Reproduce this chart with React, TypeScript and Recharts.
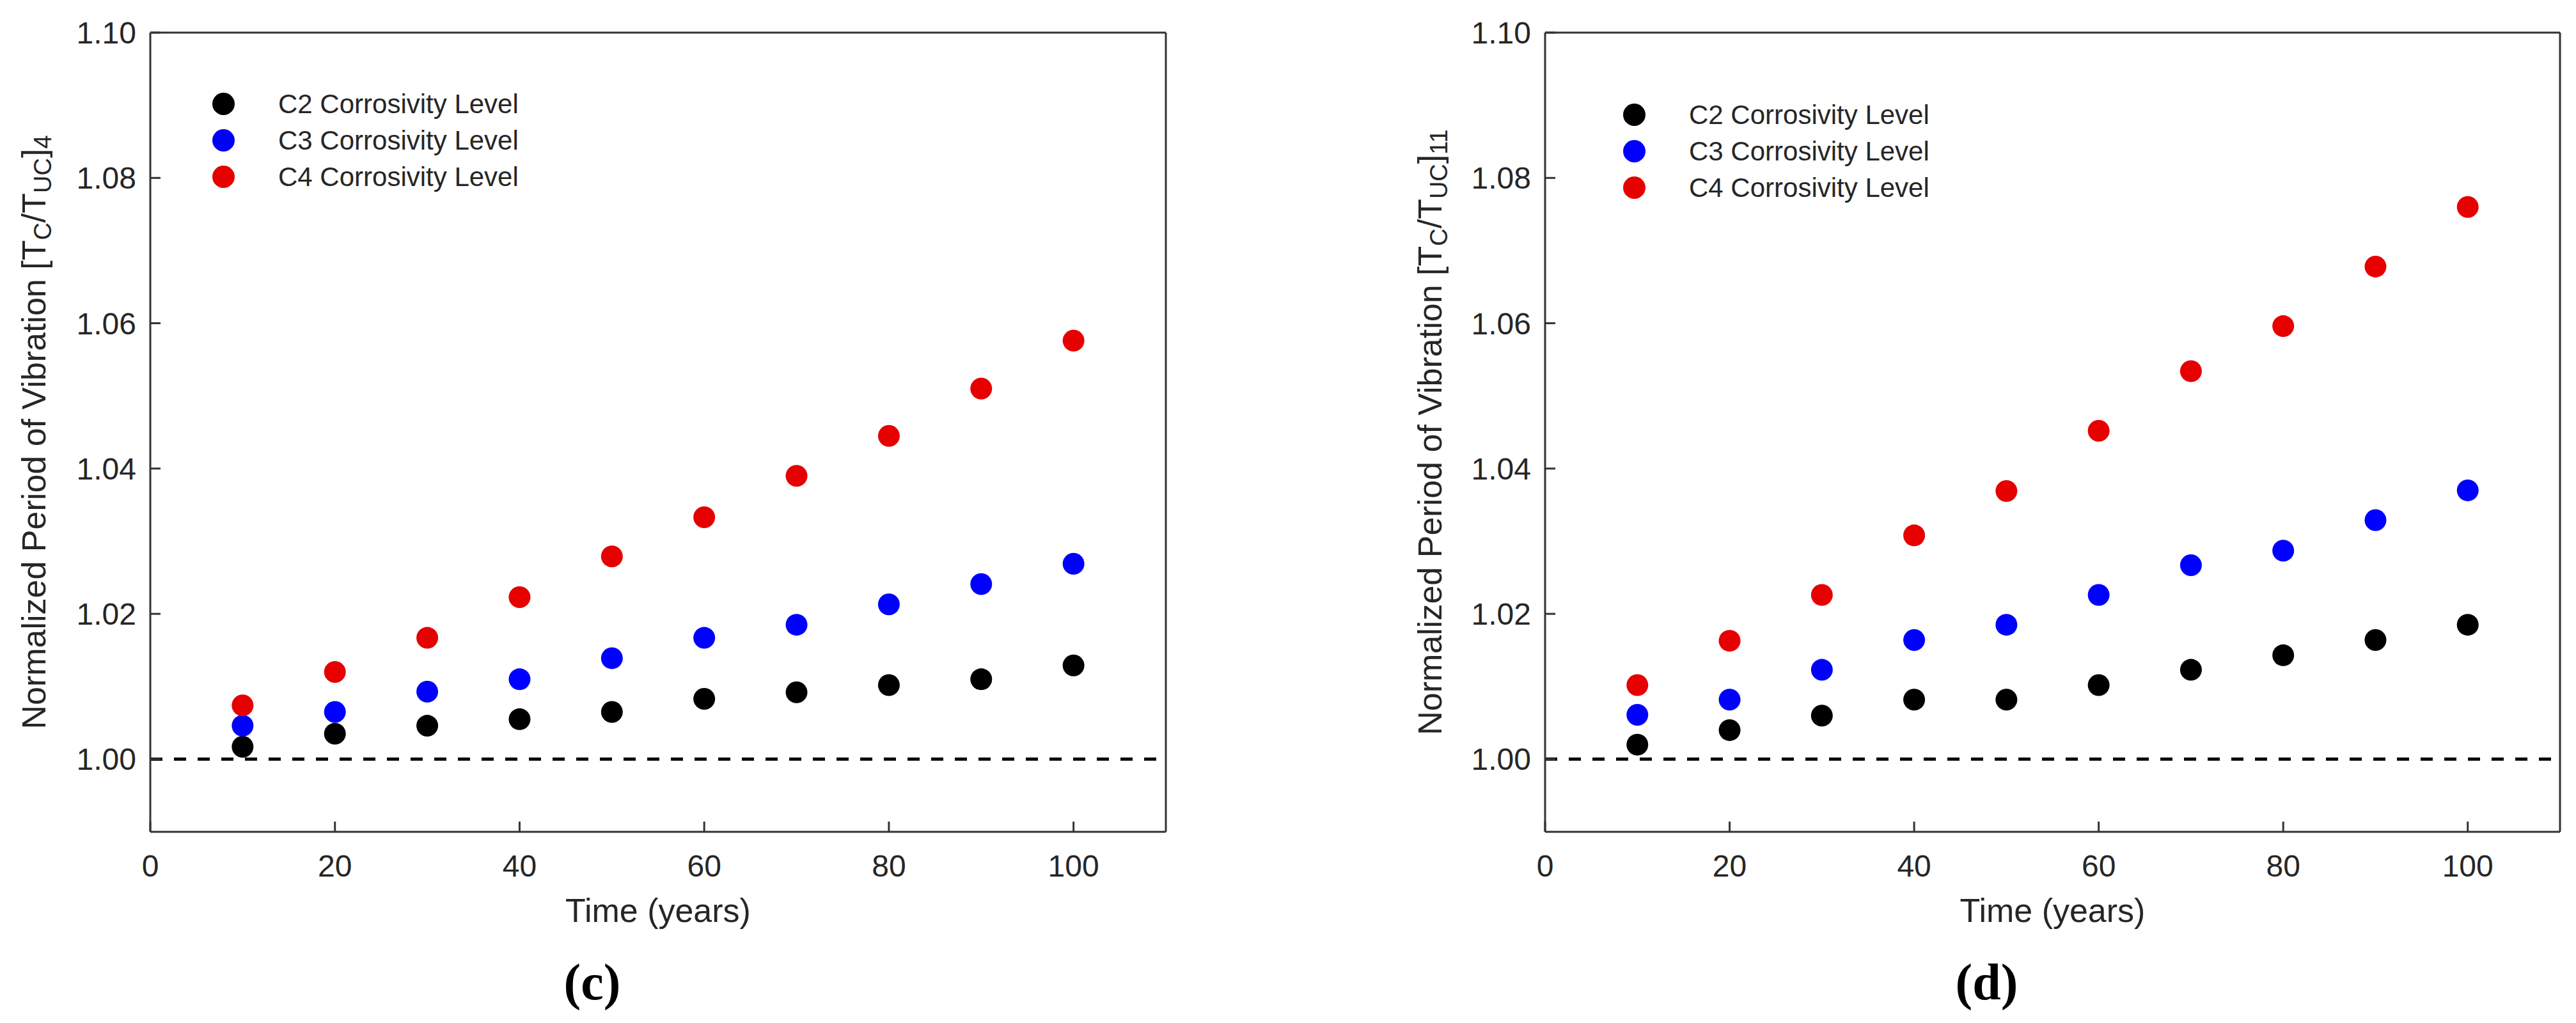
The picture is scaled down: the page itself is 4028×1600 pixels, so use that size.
import React from 'react';
import { ScatterChart, Scatter, XAxis, YAxis, ReferenceLine, Legend } from 'recharts';

// time axis (years)
const years = [10, 20, 30, 40, 50, 60, 70, 80, 90, 100];

// panel (c): [Tc/Tuc]_4
const c2Mode4 = [1.0017, 1.0035, 1.0046, 1.0055, 1.0065, 1.0083, 1.0092, 1.0102, 1.011, 1.0129];
const c3Mode4 = [1.0046, 1.0065, 1.0093, 1.011, 1.0139, 1.0167, 1.0185, 1.0213, 1.0241, 1.0269];
const c4Mode4 = [1.0074, 1.012, 1.0167, 1.0223, 1.0279, 1.0333, 1.039, 1.0445, 1.051, 1.0576];

// panel (d): [Tc/Tuc]_11
const c2Mode11 = [1.002, 1.004, 1.006, 1.0082, 1.0082, 1.0102, 1.0123, 1.0143, 1.0164, 1.0185];
const c3Mode11 = [1.0061, 1.0082, 1.0123, 1.0164, 1.0185, 1.0226, 1.0267, 1.0287, 1.0329, 1.037];
const c4Mode11 = [1.0102, 1.0163, 1.0226, 1.0308, 1.0369, 1.0452, 1.0534, 1.0596, 1.0678, 1.076];

const seriesNames = ['C2 Corrosivity Level', 'C3 Corrosivity Level', 'C4 Corrosivity Level'];
const seriesColors = ['#000000', '#0000ff', '#e60000'];

const xTicks = [0, 20, 40, 60, 80, 100];
const yTicks = [1.0, 1.02, 1.04, 1.06, 1.08, 1.1];

const FONT = '"Liberation Sans", Arial, Helvetica, sans-serif';
const SERIF = '"Liberation Serif", "Times New Roman", serif';
const AXIS = '#333333';
const TEXT = '#262626';

const axisLineStyle = { stroke: AXIS, strokeWidth: 3 };
const tickStyle = { fill: TEXT, fontSize: 48, fontFamily: FONT };

const toPoints = (values: number[]) => years.map((t, i) => ({ t, v: values[i] }));

const XAxisTitle = ({ viewBox, letter }: any) => {
  const cx = viewBox.x + viewBox.width / 2;
  return (
    <g>
      <text x={cx} y={viewBox.y + 141} textAnchor="middle" fontSize={52} fill={TEXT} fontFamily={FONT}>
        Time (years)
      </text>
      <text x={cx - 103} y={viewBox.y + 262} textAnchor="middle" fontSize={80} fontWeight="bold" fill="#000" fontFamily={SERIF}>
        ({letter})
      </text>
    </g>
  );
};

const YAxisTitle = ({ viewBox, labelX, sub }: any) => {
  const cy = viewBox.y + viewBox.height / 2;
  return (
    <text
      x={labelX}
      y={cy}
      transform={`rotate(-90, ${labelX}, ${cy})`}
      textAnchor="middle"
      dominantBaseline="central"
      fontSize={52}
      fill={TEXT}
      fontFamily={FONT}
    >
      Normalized Period of Vibration [T
      <tspan fontSize={38} dy={14}>C</tspan>
      <tspan dy={-14}>/T</tspan>
      <tspan fontSize={38} dy={14}>UC</tspan>
      <tspan dy={-14}>]</tspan>
      <tspan fontSize={38} dy={14}>{sub}</tspan>
    </text>
  );
};

const LegendBox = () => (
  <div style={{ fontFamily: FONT, fontSize: 42, color: TEXT }}>
    {seriesNames.map((name, i) => (
      <div key={name} style={{ display: 'flex', alignItems: 'center', height: 57 }}>
        <span style={{ width: 35, height: 35, borderRadius: '50%', background: seriesColors[i], display: 'inline-block' }} />
        <span style={{ marginLeft: 68, lineHeight: '57px', whiteSpace: 'nowrap' }}>{name}</span>
      </div>
    ))}
  </div>
);

interface PanelProps {
  left: number;
  series: number[][];
  letter: string;
  sub: string;
  yAxisWidth: number;
  marginRight: number;
  labelX: number;
  legendLeft: number;
  legendTop: number;
}

const Panel: React.FC<PanelProps> = ({ left, series, letter, sub, yAxisWidth, marginRight, labelX, legendLeft, legendTop }) => (
  <div style={{ position: 'absolute', left, top: 0, width: 2014, height: 1600 }}>
    {/* top / right axes are 1px wide so they still draw the box and inward ticks */}
    <ScatterChart width={2014} height={1600} margin={{ top: 50, right: marginRight - 1, bottom: 0, left: 0 }}>
      <XAxis
        dataKey="t"
        type="number"
        domain={[0, 110]}
        ticks={xTicks}
        interval={0}
        height={299}
        tickSize={-16}
        tickMargin={52}
        axisLine={axisLineStyle}
        tickLine={axisLineStyle}
        tick={tickStyle}
        label={<XAxisTitle letter={letter} />}
      />
      <XAxis
        xAxisId="top"
        orientation="top"
        type="number"
        domain={[0, 110]}
        allowDataOverflow
        ticks={xTicks}
        interval={0}
        height={1}
        tickSize={-16}
        axisLine={axisLineStyle}
        tickLine={axisLineStyle}
        tick={false}
      />
      <YAxis
        dataKey="v"
        type="number"
        domain={[0.99, 1.1]}
        allowDataOverflow
        ticks={yTicks}
        interval={0}
        width={yAxisWidth}
        tickSize={-16}
        tickMargin={38}
        axisLine={axisLineStyle}
        tickLine={axisLineStyle}
        tick={tickStyle}
        tickFormatter={(v: number) => v.toFixed(2)}
        label={<YAxisTitle labelX={labelX} sub={sub} />}
      />
      <YAxis
        yAxisId="right"
        orientation="right"
        type="number"
        domain={[0.99, 1.1]}
        allowDataOverflow
        ticks={yTicks}
        interval={0}
        width={1}
        tickSize={-16}
        axisLine={axisLineStyle}
        tickLine={axisLineStyle}
        tick={false}
      />
      <ReferenceLine y={1} stroke="#000" strokeWidth={5} strokeDasharray="19 18" />
      <Legend
        layout="vertical"
        align="center"
        verticalAlign="middle"
        content={() => <LegendBox />}
        wrapperStyle={{ left: legendLeft, top: legendTop, width: 'auto' }}
      />
      {series.map((values, i) => (
        <Scatter
          key={seriesNames[i]}
          name={seriesNames[i]}
          data={toPoints(values)}
          fill={seriesColors[i]}
          isAnimationActive={false}
          shape={(p: any) => <circle cx={p.cx} cy={p.cy} r={17} fill={seriesColors[i]} />}
        />
      ))}
    </ScatterChart>
  </div>
);

export default function App() {
  return (
    <div style={{ position: 'absolute', left: 0, top: 0, width: 4028, height: 1600, background: '#fff' }}>
      <Panel
        left={0}
        series={[c2Mode4, c3Mode4, c4Mode4]}
        letter="c"
        sub="4"
        yAxisWidth={235}
        marginRight={191}
        labelX={53}
        legendLeft={332}
        legendTop={134}
      />
      <Panel
        left={2014}
        series={[c2Mode11, c3Mode11, c4Mode11]}
        letter="d"
        sub="11"
        yAxisWidth={402}
        marginRight={25}
        labelX={222}
        legendLeft={524}
        legendTop={151}
      />
    </div>
  );
}
